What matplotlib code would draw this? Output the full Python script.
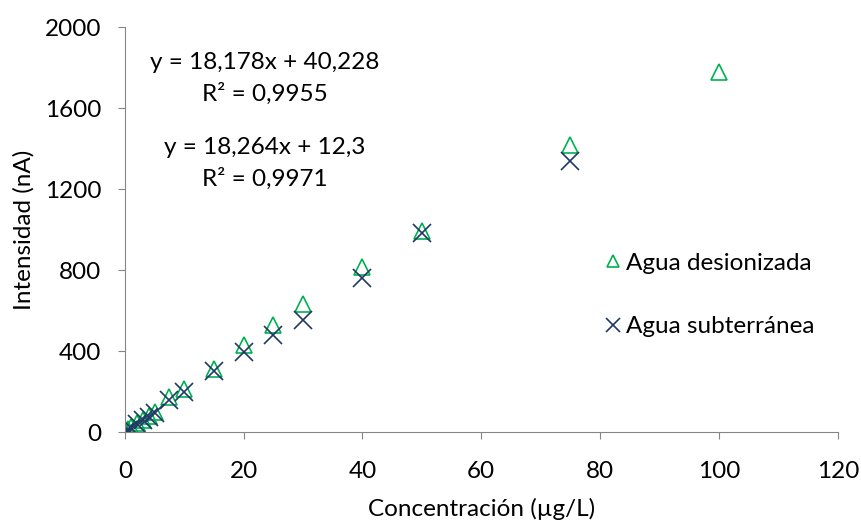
import matplotlib
matplotlib.use("Agg")
import matplotlib.pyplot as plt

plt.rcParams['font.family'] = ['Lato', 'DejaVu Sans']

# Agua desionizada
x_des = [0, 0.5, 1, 2, 3, 4, 5, 7.5, 10, 15, 20, 25, 30, 40, 50, 75, 100]
y_des = [5, 15, 25, 45, 62, 80, 100, 173, 215, 310, 430, 528, 632, 815, 993, 1420, 1778]

# Agua subterranea
x_sub = [0, 0.5, 1, 2, 3, 4, 5, 7.5, 10, 15, 20, 25, 30, 40, 50, 75]
y_sub = [3, 12, 22, 40, 58, 75, 92, 160, 198, 300, 395, 479, 553, 760, 985, 1338]

xticks = [0, 20, 40, 60, 80, 100, 120]
yticks = [0, 400, 800, 1200, 1600, 2000]

green = '#00B050'
navy = '#1F3864'
fs = 17.5

fig = plt.figure(figsize=(8.61, 5.2), dpi=100)
ax = fig.add_axes([0.145, 0.169, 0.828, 0.779])

ax.plot(x_des, y_des, ls='none', marker='^', markersize=11, mfc='none',
        mec=green, mew=1.2, label='Agua desionizada')
ax.plot(x_sub, y_sub, ls='none', marker='x', markersize=13, color=navy,
        mew=1.2, label='Agua subterránea')

ax.set_xlim(0, 120)
ax.set_ylim(0, 2000)
ax.set_xticks(xticks)
ax.set_yticks(yticks)
ax.tick_params(labelsize=fs, color='#868686', length=5)
ax.tick_params(axis='y', pad=12)
ax.tick_params(axis='x', pad=16)
for s in ['top', 'right']:
    ax.spines[s].set_visible(False)
for s in ['left', 'bottom']:
    ax.spines[s].set_color('#868686')

ax.set_xlabel('Concentración (µg/L)', fontsize=fs, labelpad=11)
ax.set_ylabel('Intensidad (nA)', fontsize=fs, labelpad=7)

ax.text(0.196, 0.874, 'y = 18,178x + 40,228\nR² = 0,9955', transform=ax.transAxes,
        ha='center', va='center', fontsize=fs, linespacing=1.55)
ax.text(0.196, 0.663, 'y = 18,264x + 12,3\nR² = 0,9971', transform=ax.transAxes,
        ha='center', va='center', fontsize=fs, linespacing=1.55)

ax.legend(loc='center left', bbox_to_anchor=(0.644, 0.338), frameon=False, fontsize=fs,
          handlelength=0.6, handletextpad=0.25, labelspacing=1.75, markerscale=0.8)

fig.savefig('out.png', dpi=100)
